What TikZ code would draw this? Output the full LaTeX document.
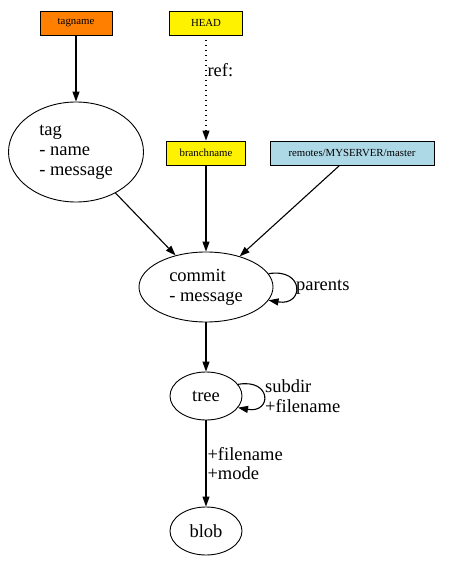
\documentclass[tikz,border=0pt]{standalone}
\usepackage{fontspec}
\setmainfont{Liberation Serif}
\usetikzlibrary{arrows.meta, shapes.geometric}

\begin{document}
\begin{tikzpicture}[
    x=1pt, y=-1pt,
    >={Triangle[length=10pt, width=7pt]},
    every node/.style={font=\fontsize{18.5}{19.8}\selectfont},
    refbox/.style ={draw, line width=0.9pt, inner sep=2pt, minimum height=24pt,
                    font=\fontsize{10.8}{12}\selectfont},
    obj/.style    ={draw, ellipse, line width=0.9pt, align=left, inner sep=0pt},
    flow/.style   ={->, line width=1.1pt},
    symref/.style ={->, line width=1.1pt, dash pattern=on 1pt off 4pt},
]
\useasboundingbox (0,0) rectangle (474,564);
% refs
\node[refbox, fill={rgb,255:red,255;green,128;blue,0}, minimum width=72pt]
      (tagname) at (76,23)  {tagname};
\node[refbox, fill=yellow, minimum width=73pt]  (head)   at (206,23)  {HEAD};
\node[refbox, fill=yellow, minimum width=79pt]  (branch) at (206,153) {branchname};
\node[refbox, fill={rgb,255:red,173;green,216;blue,230}, minimum width=164pt]
      (remote) at (352,153) {remotes/MYSERVER/master};
% objects
\node[obj, minimum width=135pt, minimum height=100pt] (tag)    at (76,152)
      {tag\\- name\\- message};
\node[obj, minimum width=134pt, minimum height=70pt]  (commit) at (206,287)
      {commit\\- message};
\node[obj, minimum width=72pt, minimum height=48pt]   (tree)   at (206,396) {tree};
\node[obj, minimum width=72pt, minimum height=48pt]   (blob)   at (206,531) {blob};
% edges
\draw[flow]   (tagname) -- (tag);
\draw[symref] (head) -- node[right, pos=0.33, inner sep=1pt]{ref:} (branch);
\draw[flow]   (tag)    -- (commit);
\draw[flow]   (branch) -- (commit);
\draw[flow]   (remote.south west) ++(70,0) -- (commit);
\draw[flow]   (commit) -- (tree);
\draw[flow]   (tree) -- node[right, align=left, inner sep=1pt]{+filename\\+mode} (blob);
% self loops
\draw[flow] (commit.12) .. controls +(36,-6) and +(36,6) ..
            node[right, inner sep=0pt]{parents} (commit.-12);
\draw[flow] (tree.20) .. controls +(34,-6) and +(34,6) ..
            node[right, align=left, inner sep=1pt]{subdir\\+filename} (tree.-20);
\end{tikzpicture}
\end{document}
